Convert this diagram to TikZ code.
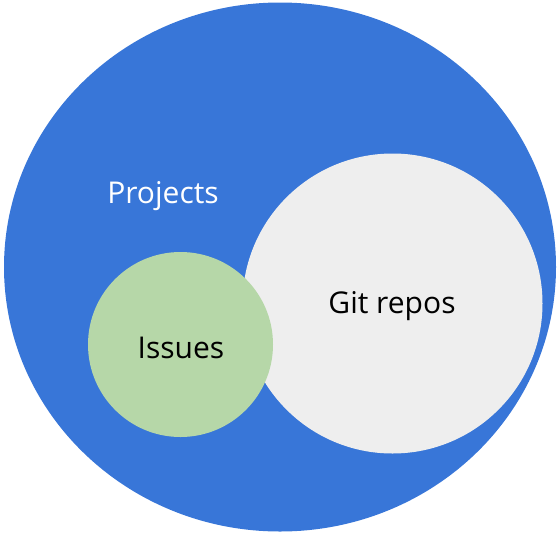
\documentclass[tikz,border=0pt]{standalone}
\usepackage{fontspec}
\setmainfont{Open Sans}
\usetikzlibrary{shapes.geometric}

\definecolor{projblue}{HTML}{3876D8}
\definecolor{issuegreen}{HTML}{B6D7A8}
\definecolor{repogrey}{HTML}{EEEEEE}

\begin{document}
\begin{tikzpicture}[x=1pt, y=-1pt,
    blob/.style={draw=none, inner sep=0pt, font=\fontsize{30}{36}\selectfont}]
  \useasboundingbox (0,0) rectangle (560,539);
  \node (projects) [blob, ellipse, fill=projblue,
    minimum width=552pt, minimum height=529pt] at (280,267) {};
  \node (repos) [blob, circle, fill=repogrey, minimum size=300pt] at (392.5,303.5) {};
  \node (issues) [blob, circle, fill=issuegreen, minimum size=185pt] at (180.5,344.5) {};
  \node (repolabel) [blob] at (392,306) {Git repos};
  \node (issuelabel) [blob] at (181,348) {Issues};
  \node (projlabel) [blob, text=white] at (163,196) {Projects};
\end{tikzpicture}
\end{document}
